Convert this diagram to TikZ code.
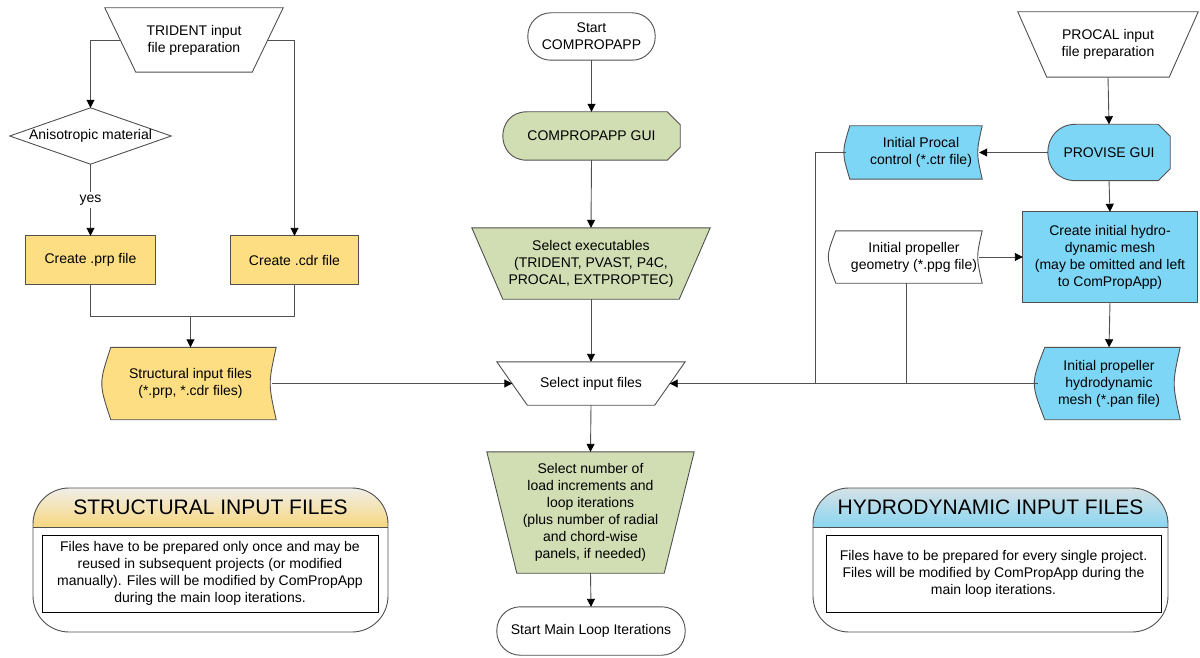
\documentclass[tikz,border=0pt]{standalone}
\usepackage{fontspec}
\setmainfont{Liberation Sans}
\usetikzlibrary{arrows.meta,calc}
\pgfdeclarelayer{bg}
\pgfsetlayers{bg,main}
\definecolor{yel}{HTML}{FDDE82}
\definecolor{grn}{HTML}{D1DEB3}
\definecolor{blu}{HTML}{7DD6F5}
\definecolor{ln}{HTML}{505050}
\definecolor{legYtop}{HTML}{F0EEE8}
\definecolor{legYbot}{HTML}{F7D77F}
\definecolor{legBtop}{HTML}{D5E1E5}
\definecolor{legBbot}{HTML}{8AD6F2}
\tikzset{
  lbl/.style={inner sep=0pt, align=center, font=\fontsize{14}{17}\selectfont, text=black},
  outl/.style={draw=ln, line width=0.9pt},
  conn/.style={draw=ln, line width=0.9pt},
  arr/.style={conn, -{Triangle[width=8pt,length=8pt,black]}},
  legtitle/.style={inner sep=0pt, font=\fontsize{21}{24}\selectfont, text=black},
  legbox/.style={draw=black, line width=0.9pt, fill=white}
}
\newcommand\shTrap[3]{\path[outl, fill=#3] (#1.north west) -- (#1.north east) -- ($(#1.south east)+(-#2,0)$) -- ($(#1.south west)+(#2,0)$) -- cycle;}
\newcommand\shTerm[3]{\path[outl, fill=#3, rounded corners=#2] (#1.north west) rectangle (#1.south east);}
\newcommand\shDiam[1]{\path[outl, fill=white] (#1.west) -- (#1.north) -- (#1.east) -- (#1.south) -- cycle;}
\newcommand\shRect[2]{\path[outl, fill=#2] (#1.north west) rectangle (#1.south east);}
\newcommand\shStored[4]{\path[outl, fill=#4] ($(#1.north west)+(#2,0)$) -- (#1.north east) .. controls ($(#1.east)+(-2*#3,0)$) .. (#1.south east) -- ($(#1.south west)+(#2,0)$) .. controls ($(#1.west)+(-#2,0)$) .. ($(#1.north west)+(#2,0)$) -- cycle;}
\newcommand\shDisp[4]{\path[outl, fill=#4] ($(#1.north west)+(#2,0)$) -- ($(#1.north east)+(-#3,0)$) -- ($(#1.north east)+(0,#3)$) -- ($(#1.south east)+(0,-#3)$) -- ($(#1.south east)+(-#3,0)$) -- ($(#1.south west)+(#2,0)$) .. controls ($(#1.south west)+(-#2/3,0)$) and ($(#1.north west)+(-#2/3,0)$) .. ($(#1.north west)+(#2,0)$) -- cycle;}
\begin{document}
\begin{tikzpicture}[x=1pt,y=-1pt]
\useasboundingbox (0,0) rectangle (1200,658);
% ---------- left column
\node[lbl, minimum width=178pt, minimum height=64pt] (trident) at (194,40) {TRIDENT input\\file preparation};
\node[lbl, minimum width=161pt, minimum height=56pt] (aniso) at (90.5,136) {Anisotropic material};
\node[lbl, minimum width=129pt, minimum height=48pt] (prp) at (90.5,260) {Create .prp file};
\node[lbl, minimum width=127pt, minimum height=48pt] (cdr) at (294.5,260) {Create .cdr file};
\node[lbl, minimum width=171pt, minimum height=72pt] (struct) at (190.5,383.5) {Structural input files\\(*.prp, *.cdr files)};
% ---------- centre column
\node[lbl, minimum width=127pt, minimum height=47pt] (start) at (591.5,36.5) {Start\\COMPROPAPP};
\node[lbl, minimum width=177pt, minimum height=48pt] (gui) at (591.5,136) {COMPROPAPP GUI};
\node[lbl, minimum width=238pt, minimum height=71pt] (exec) at (591,263.5) {Select executables\\(TRIDENT, PVAST, P4C,\\PROCAL, EXTPROPTEC)};
\node[lbl, minimum width=188pt, minimum height=43pt] (select) at (591,383.5) {Select input files};
\node[lbl, minimum width=207pt, minimum height=121pt] (number) at (590.5,512.5) {Select number of\\load increments and\\loop iterations\\(plus number of radial\\and chord-wise\\panels, if needed)};
\node[lbl, minimum width=188pt, minimum height=48pt] (mainloop) at (591,631) {Start Main Loop Iterations};
% ---------- right column
\node[lbl, minimum width=180pt, minimum height=65pt] (procal) at (1108,44.5) {PROCAL input\\file preparation};
\node[lbl, minimum width=122pt, minimum height=56pt] (provise) at (1109,152.5) {PROVISE GUI};
\node[lbl, minimum width=136pt, minimum height=53pt] (ctr) at (914,152.5) {};
\node[lbl] (ctrtxt) at (921,152.5) {Initial Procal\\control (*.ctr file)};
\node[lbl, minimum width=174pt, minimum height=90pt] (mesh) at (1110,257) {Create initial hydro-\\dynamic mesh\\(may be omitted and left\\to ComPropApp)};
\node[lbl, minimum width=151pt, minimum height=52pt] (ppg) at (906.5,257) {};
\node[lbl] (ppgtxt) at (914,257) {Initial propeller\\geometry (*.ppg file)};
\node[lbl, minimum width=142pt, minimum height=72pt] (pan) at (1109,383.5) {Initial propeller\\hydrodynamic\\mesh (*.pan file)};
% ---------- legends text
\node[legtitle] (stitle) at (210.5,507.5) {STRUCTURAL INPUT FILES};
\node[lbl] (stext) at (210,573.5) {Files have to be prepared only once and may be\\reused in subsequent projects (or modified\\manually). Files will be modified by ComPropApp\\during the main loop iterations.};
\node[legtitle] (htitle) at (990.5,507.5) {HYDRODYNAMIC INPUT FILES};
\node[lbl] (htext) at (993.5,573.5) {Files have to be prepared for every single project.\\Files will be modified by ComPropApp during the\\main loop iterations.};
% ---------- shapes
\begin{pgfonlayer}{bg}
  \shTrap{trident}{31}{white}
  \shDiam{aniso}
  \shRect{prp}{yel}
  \shRect{cdr}{yel}
  \shStored{struct}{6}{4}{yel}
  \shTerm{start}{23pt}{white}
  \shDisp{gui}{24}{13}{grn}
  \shTrap{exec}{31}{grn}
  \shTrap{select}{30.5}{white}
  \shTrap{number}{30}{grn}
  \shTerm{mainloop}{23.5pt}{white}
  \shTrap{procal}{29}{white}
  \shDisp{provise}{28}{12}{blu}
  \shStored{ctr}{4}{3}{blu}
  \shRect{mesh}{blu}
  \shStored{ppg}{5}{3}{white}
  \shStored{pan}{7}{4}{blu}
  % structural legend
  \begin{scope}
    \clip[rounded corners=36pt] (33,488) rectangle (388,632);
    \fill[white] (33,488) rectangle (388,632);
    \shade[top color=legYtop, bottom color=legYbot] (33,488) rectangle (388,527);
  \end{scope}
  \draw[conn] (33,527) -- (388,527);
  \draw[outl, rounded corners=36pt] (33,488) rectangle (388,632);
  \draw[legbox] (42,535) rectangle (378,612);
  % hydrodynamic legend
  \begin{scope}
    \clip[rounded corners=36pt] (813,488) rectangle (1168,632);
    \fill[white] (813,488) rectangle (1168,632);
    \shade[top color=legBtop, bottom color=legBbot] (813,488) rectangle (1168,527);
  \end{scope}
  \draw[conn] (813,527) -- (1168,527);
  \draw[outl, rounded corners=36pt] (813,488) rectangle (1168,632);
  \draw[legbox] (826,535) rectangle (1161,612);
\end{pgfonlayer}
% ---------- connectors
\coordinate (join) at (190.5,316);
\coordinate (bus) at (815,383.5);
\draw[arr] ($(trident.west)+(15.5,0)$) -| (aniso.north);
\draw[arr] ($(trident.east)+(-15.5,0)$) -| (cdr.north);
\draw[arr] (aniso.south) -- node[lbl, fill=white, inner sep=3pt] (yes) {yes} (prp.north);
\draw[conn] (prp.south) |- (join);
\draw[conn] (cdr.south) |- (join);
\draw[arr] (join) -- (struct.north);
\draw[arr] ($(struct.east)+(-4,0)$) -- ($(select.west)+(15.5,0)$);
\draw[arr] (start.south) -- (gui.north);
\draw[arr] (gui.south) -- (exec.north);
\draw[arr] (exec.south) -- (select.north);
\draw[arr] (select.south) -- (number.north);
\draw[arr] (number.south) -- (mainloop.north);
\draw[arr] (procal.south) -- (provise.north);
\draw[arr] (provise.west) -- ($(ctr.east)+(-3,0)$);
\draw[arr] (provise.south) -- (mesh.north);
\draw[arr] ($(ppg.east)+(-3,0)$) -- (mesh.west);
\draw[arr] (mesh.south) -- (pan.north);
\draw[arr] (pan.west) -- ($(select.east)+(-15.5,0)$);
\draw[conn] (ctr.west) -| (bus);
\draw[conn] (ppg.south) -- (ppg.south |- bus);
\end{tikzpicture}
\end{document}
